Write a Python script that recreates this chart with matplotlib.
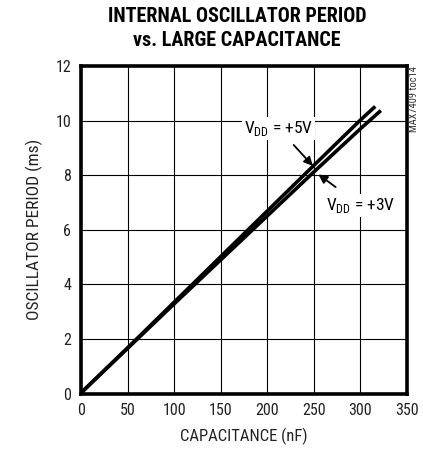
import matplotlib
matplotlib.use('Agg')
import matplotlib.pyplot as plt

plt.rcParams['font.family'] = ['Roboto Condensed', 'DejaVu Sans']

# capacitance (nF) vs. oscillator period (ms)
cap_5v = [0, 50, 100, 150, 200, 250, 300, 316]
per_5v = [0.03, 1.68, 3.35, 5.02, 6.69, 8.36, 10.02, 10.52]
cap_3v = [0, 50, 100, 150, 200, 250, 300, 322]
per_3v = [0.03, 1.66, 3.29, 4.90, 6.51, 8.12, 9.70, 10.37]

xticks = [0, 50, 100, 150, 200, 250, 300, 350]
yticks = [0, 2, 4, 6, 8, 10, 12]

fig = plt.figure(figsize=(4.23, 4.54), dpi=100)
ax = fig.add_axes([0.1915, 0.1328, 0.7705, 0.7218])

ax.plot(cap_5v, per_5v, color='black', lw=2.6, solid_capstyle='butt')
ax.plot(cap_3v, per_3v, color='black', lw=2.6, solid_capstyle='butt')

ax.set_xlim(0, 350)
ax.set_ylim(0, 12)
ax.set_xticks(xticks)
ax.set_yticks(yticks)
ax.grid(True, color='black', lw=0.8)
ax.tick_params(length=0, labelsize=11.5, pad=7, labelcolor='#222222')
for s in ax.spines.values():
    s.set_linewidth(2.6)

ax.set_xlabel('CAPACITANCE (nF)', fontsize=12, labelpad=7, color='#222222')
ax.set_ylabel('OSCILLATOR PERIOD (ms)', fontsize=12.5, labelpad=9, color='#222222')
fig.suptitle('INTERNAL OSCILLATOR PERIOD\nvs. LARGE CAPACITANCE', fontsize=14.5,
             fontweight='bold', y=0.985, x=0.56, linespacing=1.35)

ax.annotate('V$_{\\mathregular{DD}}$ = +5V', xy=(249, 8.34), xytext=(212, 9.72),
            fontsize=12.5, ha='center', va='center',
            bbox=dict(facecolor='white', edgecolor='none', pad=1.5),
            arrowprops=dict(arrowstyle='-|>', color='black', lw=1.3,
                            mutation_scale=13, shrinkA=5, shrinkB=0))
ax.annotate('V$_{\\mathregular{DD}}$ = +3V', xy=(255, 8.03), xytext=(300, 6.9),
            fontsize=12.5, ha='center', va='center',
            bbox=dict(facecolor='white', edgecolor='none', pad=1.5),
            arrowprops=dict(arrowstyle='-|>', color='black', lw=1.3,
                            mutation_scale=13, shrinkA=8, shrinkB=0))

fig.text(0.979, 0.782, 'MAX7409 toc14', rotation=90, fontsize=7.5,
         ha='center', va='center', color='#333333')

fig.savefig('out.png', dpi=100)
